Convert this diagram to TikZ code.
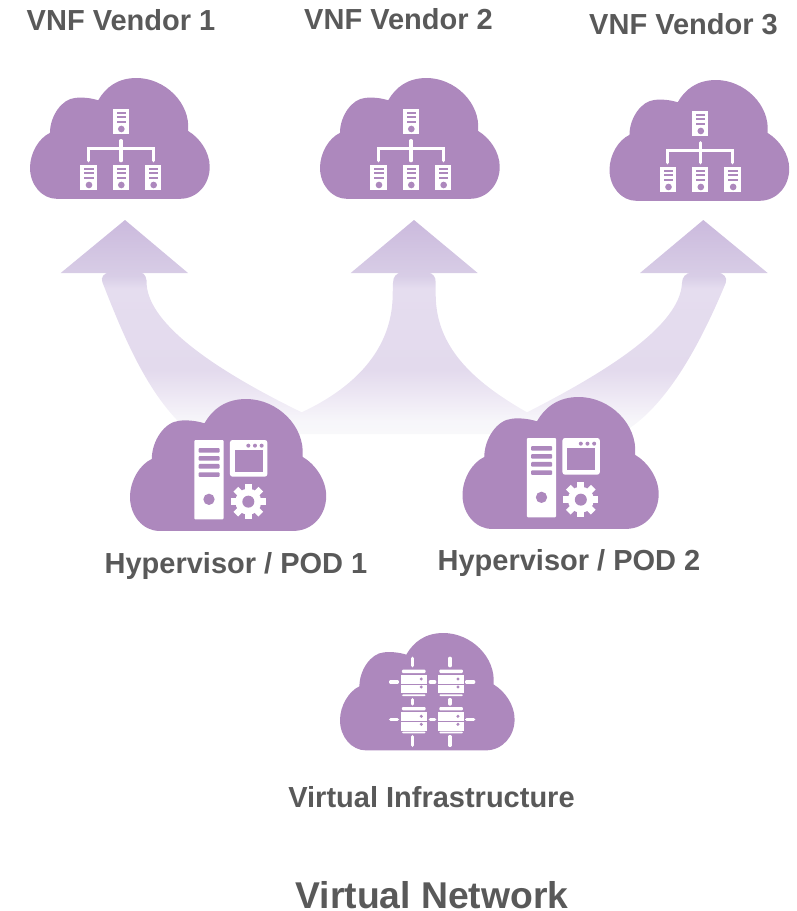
\documentclass[tikz,border=0pt]{standalone}
\usepackage{fontspec}
\setmainfont{Liberation Sans}
\definecolor{cloudc}{HTML}{AD88BD}
\definecolor{labelc}{HTML}{595959}
\definecolor{fa}{HTML}{F8F8FA}
\definecolor{fb}{HTML}{F7F6FA}
\definecolor{fc}{HTML}{EFEAF5}
\definecolor{fd}{HTML}{E3DAED}
\definecolor{fe}{HTML}{E5DDEF}
\definecolor{ff}{HTML}{D8CDE6}
\definecolor{fg}{HTML}{CBBADD}
\pgfdeclareverticalshading{arrowfade}{100bp}{
  color(0bp)=(fa);
  color(25bp)=(fa);
  color(28bp)=(fb);
  color(33bp)=(fc);
  color(40bp)=(fd);
  color(59bp)=(fe);
  color(62bp)=(ff);
  color(75bp)=(fg);
  color(100bp)=(fg)}
\tikzset{
  lab/.style={font=\fontsize{#1}{#1}\selectfont\bfseries, text=labelc, anchor=base, inner sep=0pt},
  wf/.style={fill=white, draw=none},
  pf/.style={fill=cloudc, draw=none},
  wl/.style={draw=white, line width=3.3pt, line cap=round},
  wd/.style={draw=white, line width=3.4pt, line cap=round},
}
% cloud: top-left corner (#1,#2), scale #3
\newcommand{\cloudat}[3]{%
  \fill[cloudc, shift={(#1,#2)}, x=#3pt, y=-#3pt]
   (26.7,121) -- (150,121) .. controls (168,121) and (180,106) .. (180,89)
   .. controls (180,74) and (170,60) .. (158.3,53)
   .. controls (161,25) and (135,0) .. (106.7,0)
   .. controls (88,0) and (76,9) .. (68.3,22.3)
   .. controls (61,20) and (52,19) .. (45,20)
   .. controls (32,21) and (20,38) .. (20,55)
   .. controls (9,60) and (0,75) .. (0,90)
   .. controls (0,107) and (12,121) .. (26.7,121) -- cycle;}
% small server of the tree icon, left edge #1, top #2 (zoom units)
\newcommand{\srv}[2]{%
  \fill[wf] (#1,#2) rectangle ++(49,74);
  \fill[pf] (#1+12,#2+8) rectangle ++(28,6.5);
  \fill[pf] (#1+12,#2+22) rectangle ++(28,6.5);
  \fill[pf] (#1+12,#2+36) rectangle ++(28,6.5);
  \fill[pf] (#1+26,#2+60) circle (10);}
\newcommand{\treeicon}[2]{%
  \begin{scope}[shift={(#1,#2)}, x=0.3333pt, y=-0.3333pt]
    \srv{278}{117}\srv{181}{285}\srv{278}{285}\srv{375}{285}
    \draw[wl] (303,212) -- (303,272);
    \draw[wl] (205,272) -- (205,235) -- (400,235) -- (400,272);
  \end{scope}}
\newcommand{\hypericon}[2]{%
  \begin{scope}[shift={(#1,#2)}, x=0.3333pt, y=-0.3333pt]
    \fill[wf, rounded corners=1pt] (223,150) rectangle (311,388);
    \foreach \yy in {174,198,222,247}
      \fill[pf, rounded corners=1pt] (236,\yy) rectangle (299,\yy+14);
    \fill[pf] (267,328) circle (17);
    \fill[wf, rounded corners=2.5pt] (330,150) rectangle (442,260);
    \fill[pf] (344,180) rectangle (428,246);
    \foreach \xx in {385,405,425} \fill[pf] (\xx,167) circle (6);
    \fill[wf] (385,335) circle (39);
    \foreach \aa in {0,45,...,315}
      \fill[wf, shift={(385,335)}, rotate=\aa] (-10,0) rectangle (10,53);
    \fill[pf] (385,335) circle (18);
  \end{scope}}
\newcommand{\rack}[3]{% left, top, dot x
  \fill[wf, rounded corners=1pt] (#1+3,#2) rectangle ++(71,10);
  \fill[wf] (#1,#2+15) rectangle ++(77,27);
  \fill[wf] (#1,#2+45) rectangle ++(77,26);
  \fill[wf, rounded corners=1pt] (#1+3,#2+74) rectangle ++(71,5);
  \fill[pf] (#3,#2+28) circle (5);
  \fill[pf] (#3,#2+52) circle (5);}
\newcommand{\virticon}[2]{%
  \begin{scope}[shift={(#1,#2)}, x=0.3333pt, y=-0.3333pt]
    \rack{213}{134}{274}\rack{325}{134}{384}\rack{213}{246}{274}\rack{325}{246}{384}
    \foreach \xx in {248,360} {
      \draw[wd] (\xx,100) -- (\xx,122);
      \draw[wd] (\xx,224) -- (\xx,237);
      \draw[wd] (\xx,335) -- (\xx,361);}
    \foreach \yy in {171,283} {
      \draw[wd] (182,\yy) -- (202,\yy);
      \draw[wd] (301,\yy) -- (314,\yy);
      \draw[wd] (410,\yy) -- (431,\yy);}
  \end{scope}}
\begin{document}
\begin{tikzpicture}[x=1pt,y=-1pt]
\useasboundingbox (0,0) rectangle (797,911);
% fading arrows
\shade[shading=arrowfade]
  (192,434) .. controls (150,400) and (125,340) .. (102.7,283)
  .. controls (100,276) and (105,273) .. (109,273) -- (60.7,273) -- (125,220) -- (188,273) -- (141,273)
  .. controls (145,273) and (147,278) .. (146.7,285)
  .. controls (150,325) and (215,370) .. (301.7,412.3)
  .. controls (360,385) and (393,345) .. (392.7,293) -- (393,283)
  .. controls (393,276) and (397,273) .. (401,273) -- (350.7,273) -- (414,220) -- (477.7,273) -- (428,273)
  .. controls (433,273) and (436,277) .. (435.7,283) -- (435.7,295)
  .. controls (436,345) and (470,380) .. (527,412.3)
  .. controls (610,370) and (680,325) .. (682,283)
  .. controls (682,277) and (686,273) .. (691,273) -- (640,273) -- (703.3,220) -- (767.7,273) -- (718,273)
  .. controls (723,273) and (728,277) .. (725.7,283)
  .. controls (700,345) and (665,410) .. (620,434) -- cycle;
% clouds
\cloudat{30}{78}{0.9985}   \treeicon{20}{70}
\cloudat{320}{78}{0.9985}  \treeicon{310}{70}
\cloudat{609.5}{80}{0.9985}\treeicon{599.5}{72}
\cloudat{130}{399}{1.09}   \hypericon{120}{390}
\cloudat{462.5}{397}{1.09} \hypericon{452.5}{388}
\cloudat{340}{633}{0.97}   \virticon{330}{625}
% labels
\node[lab=29] (v1) at (121,30) {VNF Vendor 1};
\node[lab=29] (v2) at (398.5,29) {VNF Vendor 2};
\node[lab=29] (v3) at (683.5,34) {VNF Vendor 3};
\node[lab=29] (h1) at (236,573) {Hypervisor / POD 1};
\node[lab=29] (h2) at (569,570) {Hypervisor / POD 2};
\node[lab=29] (vi) at (431.5,807) {Virtual Infrastructure};
\node[lab=37.3] (vn) at (432,908) {Virtual Network};
\end{tikzpicture}
\end{document}
